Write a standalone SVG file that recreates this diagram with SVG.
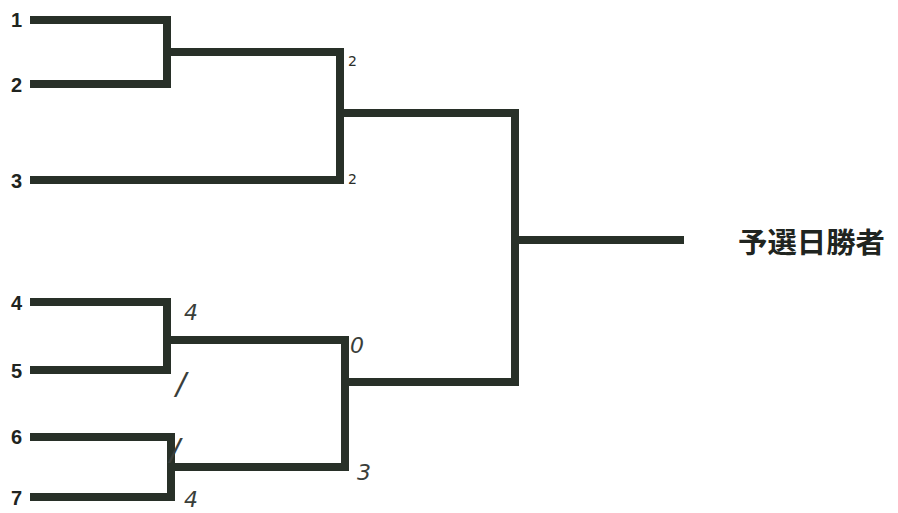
<svg xmlns="http://www.w3.org/2000/svg" width="898" height="513" viewBox="0 0 898 513">
<style>
.ln{fill:none;stroke:#283028;stroke-width:8;stroke-linecap:butt;stroke-linejoin:miter}
.seed{font-family:"Liberation Sans",Arial,sans-serif;font-weight:bold;font-size:20px;fill:#202420}
.hw{font-family:"DejaVu Sans",sans-serif;font-style:italic;font-size:22px;fill:#3a3e3a}
.sl{font-family:"DejaVu Sans",sans-serif;font-style:italic;font-size:30px;fill:#3a3e3a}
.sm{font-family:"DejaVu Sans",sans-serif;font-size:14px;fill:#2a2e2a}
.ttl{font-family:"Noto Sans CJK JP","Noto Sans CJK SC",sans-serif;font-weight:bold;font-size:28px;fill:#202420}
</style>
<rect width="898" height="513" fill="#ffffff"/>
<g id="connectors">
<path class="ln" d="M30,20 H167 V84 H30"/>
<path class="ln" d="M167,52 H340 V180 H30"/>
<path class="ln" d="M340,113 H515 V382 H345"/>
<path class="ln" d="M515,240 H684"/>
<path class="ln" d="M30,302 H167 V370 H30"/>
<path class="ln" d="M167,340 H345 V467 H171"/>
<path class="ln" d="M30,437 H171 V497 H30"/>
</g>
<g id="seed1"><text class="seed" x="11" y="27">1</text></g>
<g id="seed2"><text class="seed" x="11" y="92">2</text></g>
<g id="seed3"><text class="seed" x="11" y="188">3</text></g>
<g id="seed4"><text class="seed" x="11" y="310">4</text></g>
<g id="seed5"><text class="seed" x="11" y="378">5</text></g>
<g id="seed6"><text class="seed" x="11" y="444">6</text></g>
<g id="seed7"><text class="seed" x="11" y="505">7</text></g>
<g id="winner"><text class="ttl" x="738" y="253" textLength="147" lengthAdjust="spacingAndGlyphs">予選日勝者</text></g>
<g id="scores">
<text class="sm" x="348" y="66">2</text>
<text class="sm" x="348" y="184">2</text>
<text class="hw" x="184" y="320">4</text>
<text class="sl" x="176" y="394">/</text>
<text class="hw" x="350" y="353">0</text>
<text class="sl" x="170" y="460">/</text>
<text class="hw" x="357" y="480">3</text>
<text class="hw" x="184" y="507">4</text>
</g>
</svg>
